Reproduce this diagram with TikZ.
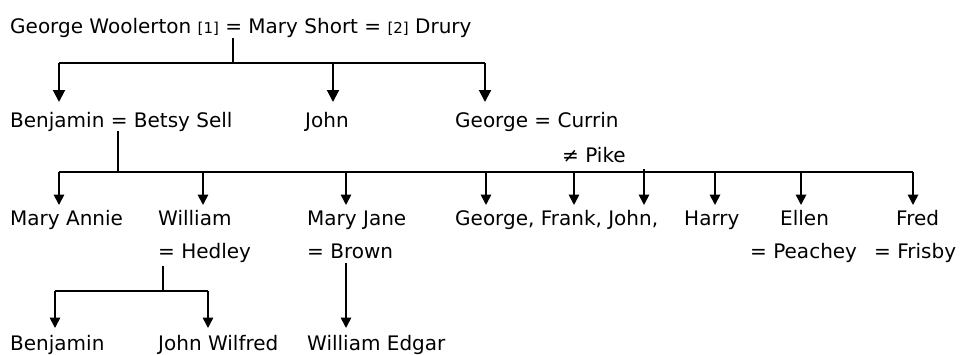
\documentclass[tikz,border=0pt]{standalone}
\usepackage{fontspec}
\setmainfont{DejaVu Sans}
\usetikzlibrary{arrows.meta}
\begin{document}
\begin{tikzpicture}[x=1pt,y=-1pt,
  lbl/.style={anchor=base west,inner sep=0pt,font=\fontsize{20}{22}\selectfont},
  link/.style={line width=2pt},
  arr/.style={line width=2pt,-{Triangle[width=12pt,length=12pt]}},
  link2/.style={line width=1.7pt},
  arr2/.style={line width=1.7pt,-{Triangle[width=10.5pt,length=10.5pt]}}]
\useasboundingbox (0,0) rectangle (960,354);
% row 1
\node[lbl] (top) at (10,33) {George Woolerton {\fontsize{15}{17}\selectfont[1]} = Mary Short = {\fontsize{15}{17}\selectfont[2]} Drury};
% row 2
\node[lbl] (benj) at (10,127) {Benjamin = Betsy Sell};
\node[lbl] (john) at (305,127) {John};
\node[lbl] (geo) at (455,127) {George = Currin};
\node[lbl] (pike) at (562,162) {≠ Pike};
% row 3
\node[lbl] (mann) at (10,225) {Mary Annie};
\node[lbl] (will) at (158,225) {William};
\node[lbl] (mjane) at (307,225) {Mary Jane};
\node[lbl] (gfj) at (455,225) {George, Frank, John,};
\node[lbl] (harry) at (684,225) {Harry};
\node[lbl] (ellen) at (780,225) {Ellen};
\node[lbl] (fred) at (896,225) {Fred};
\node[lbl] (hed) at (158,258) {= Hedley};
\node[lbl] (brown) at (307,258) {= Brown};
\node[lbl] (peach) at (750,258) {= Peachey};
\node[lbl] (fris) at (874,258) {= Frisby};
% row 4
\node[lbl] (benj2) at (10,350) {Benjamin};
\node[lbl] (jw) at (158,350) {John Wilfred};
\node[lbl] (we) at (307,350) {William Edgar};
% connectors, level 1
\coordinate (t0) at (233,38);
\coordinate (t1) at (233,63);
\coordinate (tl) at (59,63);
\coordinate (tr) at (485,63);
\coordinate (tm) at (333,63);
\draw[link] (t0) -- (t1);
\draw[link] (tl) -- (tr);
\draw[arr] (tl) -- (tl |- 0,102);
\draw[arr] (tm) -- (tm |- 0,102);
\draw[arr] (tr) -- (tr |- 0,102);
% level 2
\coordinate (b0) at (118,131);
\coordinate (b1) at (118,172);
\coordinate (bl) at (59,172);
\coordinate (br) at (913,172);
\draw[link2] (b0) -- (b1);
\draw[link2] (bl) -- (br);
\foreach \xx in {59,203,346,486,574,715,801,913}
  \draw[arr2] (\xx,172) -- (\xx,205);
\draw[arr2] (644,169) -- (644,205);
% level 3
\coordinate (h0) at (163,266);
\coordinate (h1) at (163,291);
\coordinate (hl) at (55,291);
\coordinate (hr) at (208,291);
\draw[link2] (h0) -- (h1);
\draw[link2] (hl) -- (hr);
\draw[arr2] (hl) -- (hl |- 0,328);
\draw[arr2] (hr) -- (hr |- 0,328);
\draw[arr2] (346,263) -- (346,328);
\end{tikzpicture}
\end{document}
